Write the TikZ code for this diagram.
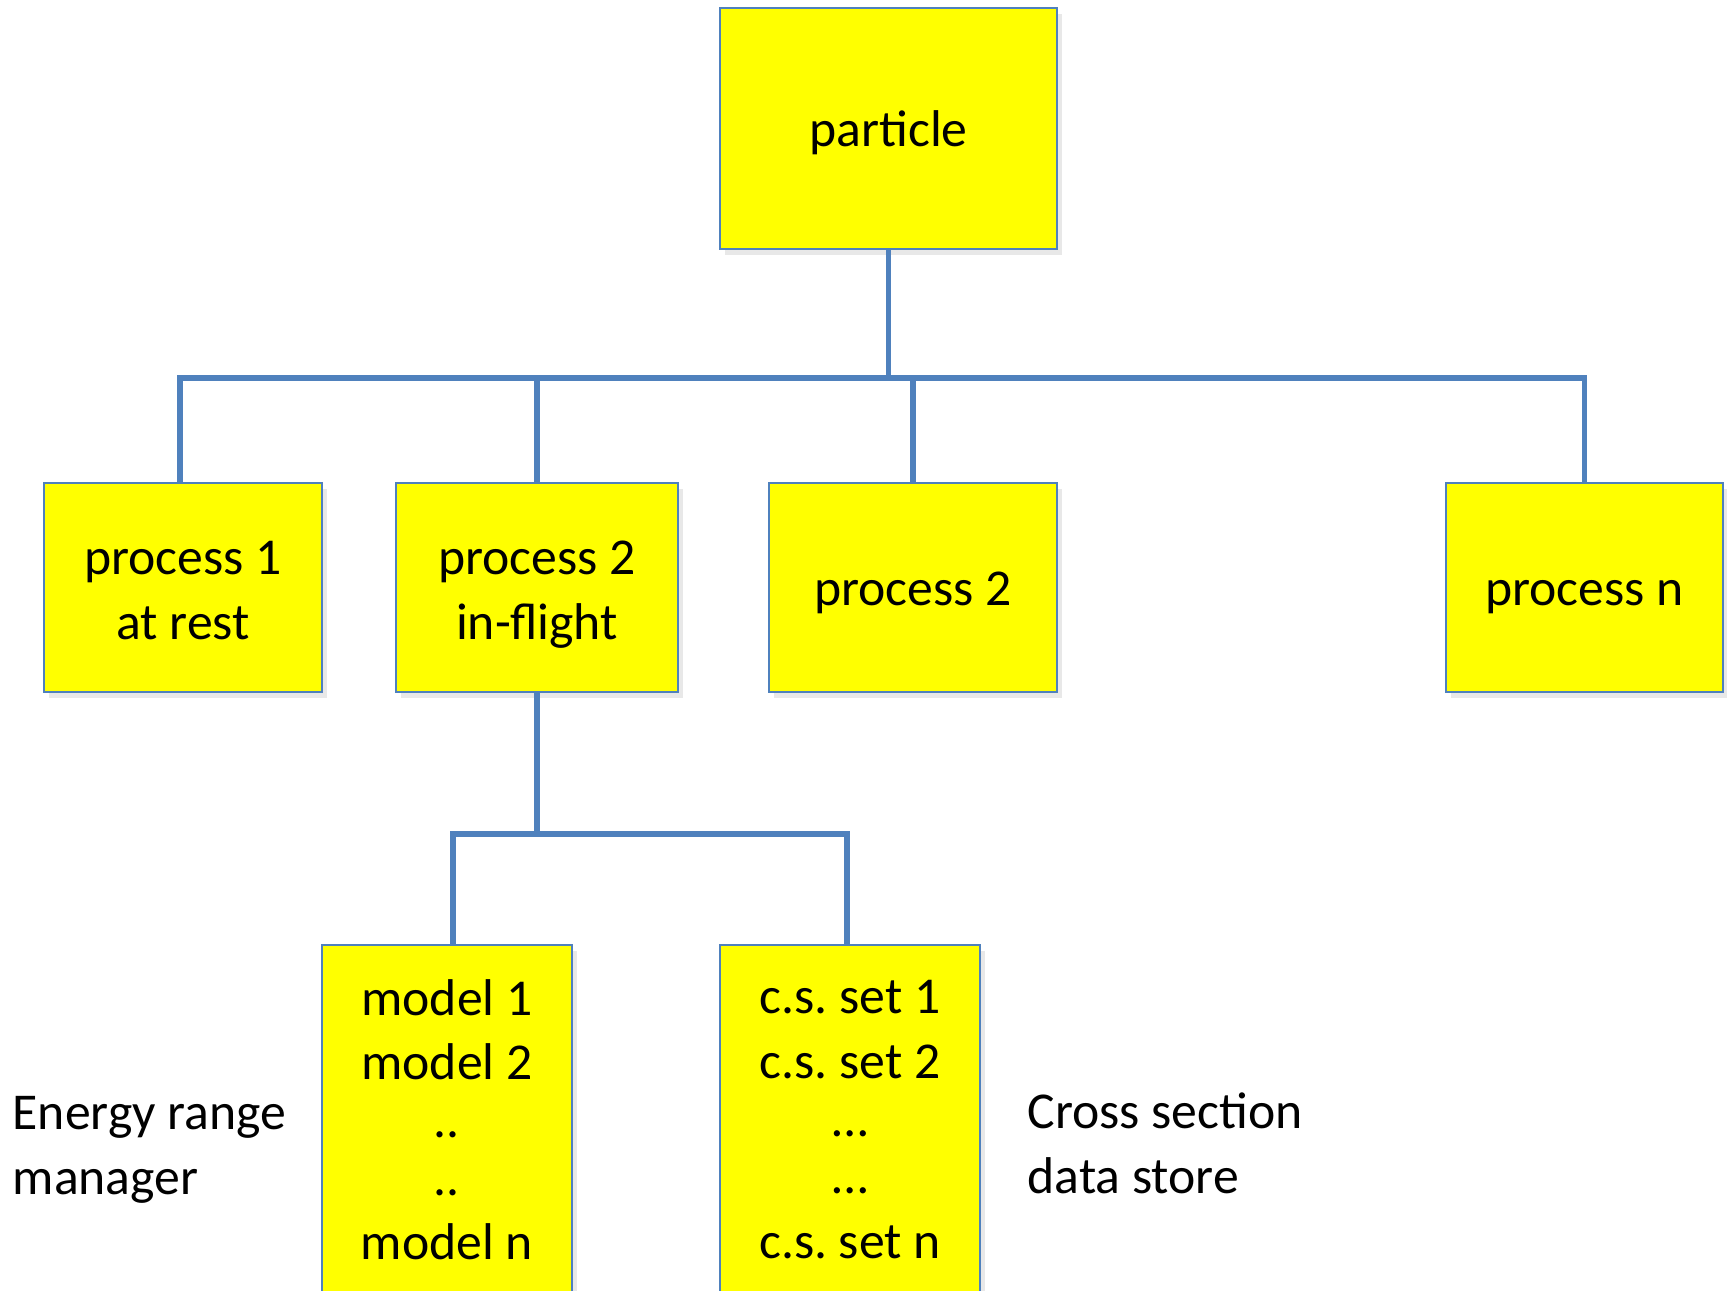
\documentclass[tikz,border=0pt]{standalone}
\usepackage{fontspec}
\setmainfont{Carlito}
\usetikzlibrary{positioning,shadows}
\definecolor{linkblue}{HTML}{4F81BD}
\definecolor{boxyellow}{HTML}{FFFF00}
\frenchspacing

\begin{document}
\begin{tikzpicture}[x=0.01cm,y=-0.01cm,
  font=\fontsize{14.7pt}{18.4pt}\selectfont,
  box/.style={rectangle,draw=linkblue,line width=0.6pt,fill=boxyellow,inner sep=0pt,align=center,
    drop shadow={shadow xshift=0.5mm,shadow yshift=-0.6mm,opacity=0.18}},
  onebox/.style={box,text height=1.3em,text depth=0.26em},
  twobox/.style={box,text height=10.3mm,text depth=0mm},
  link/.style={draw=linkblue,line width=1.55pt},
  side/.style={anchor=north west,inner sep=0pt,align=left}]

  \useasboundingbox (0,0) rectangle (1727,1291);

  \node[onebox,minimum width=3.37cm,minimum height=2.40cm] (particle) at (888.5,128.5) {particle};

  \node[twobox,minimum width=2.78cm,minimum height=2.09cm] (p1) at (183,587.5) {process 1\\at rest};
  \node[twobox,minimum width=2.82cm,minimum height=2.09cm] (p2f) at (537,587.5) {process 2\\in-flight};
  \node[onebox,minimum width=2.88cm,minimum height=2.09cm] (p2) at (913,587.5) {process 2};
  \node[onebox,minimum width=2.77cm,minimum height=2.09cm] (pn) at (1584.5,587.5) {process n};

  \node[box,minimum width=2.50cm,minimum height=3.50cm] (model) at (447,1119.7)
    {model 1\\model 2\\[-0.7mm]..\\[-0.7mm]..\\model n};
  \node[box,minimum width=2.59cm,minimum height=3.50cm] (cs) at (850,1119.7)
    {c.s. set 1\\c.s. set 2\\[-0.7mm]…\\[-0.7mm]…\\c.s. set n};

  \node[side] (erm) at (12,1096) {Energy range\\manager};
  \node[side] (csds) at (1027,1092) {Cross section\\data store};

  \coordinate (top bus) at (888.5,378);
  \coordinate (low bus) at (537,834);

  \draw[link] (particle) -- (top bus);
  \draw[link] ([xshift=-0.3mm]p1.north) |- (top bus) -| (pn.north);
  \draw[link] (p2f.north) -- (p2f.north |- top bus);
  \draw[link] (p2.north) -- (p2.north |- top bus);

  \draw[link] (p2f) -- (low bus);
  \draw[link] ([xshift=0.6mm]model.north) |- (low bus) -| ([xshift=-0.3mm]cs.north);
\end{tikzpicture}
\end{document}
